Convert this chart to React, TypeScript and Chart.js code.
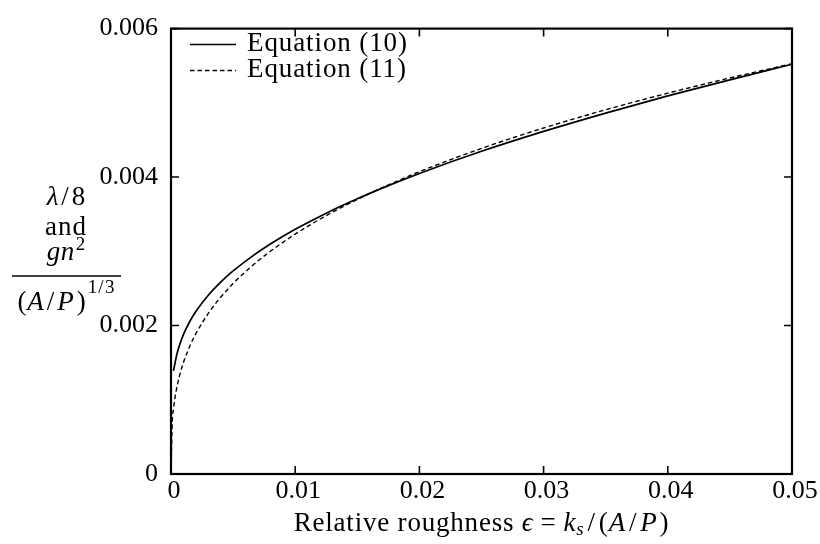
import React, { useEffect, useRef } from "react";
import { Chart, registerables } from "chart.js";

Chart.register(...registerables);

// Equation (10): lambda/8 (solid)
const eq10X = [0.0002, 0.0003, 0.0004, 0.0005, 0.0007, 0.001, 0.0015, 0.002, 0.003, 0.004, 0.005, 0.0065, 0.008, 0.01, 0.0125, 0.015, 0.0175, 0.02, 0.025, 0.03, 0.035, 0.04, 0.045, 0.05];
const eq10Y = [0.00139, 0.001475, 0.001559, 0.001629, 0.001743, 0.001878, 0.002051, 0.002189, 0.002408, 0.002585, 0.002735, 0.002929, 0.003098, 0.003296, 0.003514, 0.003708, 0.003885, 0.004049, 0.004347, 0.004615, 0.004862, 0.005093, 0.00531, 0.00552];

// Equation (11): g n^2 / (A/P)^(1/3) (dashed)
const eq11X = [0, 0.0001, 0.0002, 0.0004, 0.0007, 0.001, 0.0015, 0.002, 0.003, 0.004, 0.005, 0.0065, 0.008, 0.01, 0.0125, 0.015, 0.0175, 0.02, 0.025, 0.03, 0.035, 0.04, 0.045, 0.05];
const eq11Y = [0, 0.000696, 0.000877, 0.001105, 0.001332, 0.0015, 0.001717, 0.00189, 0.002163, 0.002381, 0.002565, 0.0028, 0.003, 0.003232, 0.003481, 0.003699, 0.003894, 0.004072, 0.004386, 0.004661, 0.004907, 0.00513, 0.005335, 0.005526];

const xTickValues = [0, 0.01, 0.02, 0.03, 0.04, 0.05];
const yTickValues = [0, 0.002, 0.004, 0.006];
const legendLabels = ["Equation (10)", "Equation (11)"];

const FAMILY = "'Liberation Serif', 'Times New Roman', serif";
const TICK = 26;
const BASE = 27;
const SUB = 19;

type Run = { t: string; italic?: boolean; size?: number; dy?: number; ls?: number; pre?: number; post?: number };

function setRunFont(ctx: CanvasRenderingContext2D, r: Run, defLs: number) {
  ctx.font = `${r.italic ? "italic " : ""}${r.size ?? BASE}px ${FAMILY}`;
  (ctx as any).letterSpacing = `${r.ls ?? defLs}px`;
}

function drawRuns(
  ctx: CanvasRenderingContext2D,
  runs: Run[],
  cx: number,
  y: number,
  align: "center" | "left" = "center",
  defLs = 0
) {
  let w = 0;
  const widths: number[] = [];
  runs.forEach((r) => {
    setRunFont(ctx, r, defLs);
    const rw = ctx.measureText(r.t).width;
    widths.push(rw);
    w += (r.pre ?? 0) + rw + (r.post ?? 0);
  });
  let x = align === "center" ? cx - w / 2 : cx;
  ctx.textAlign = "left";
  ctx.textBaseline = "alphabetic";
  runs.forEach((r, i) => {
    setRunFont(ctx, r, defLs);
    x += r.pre ?? 0;
    ctx.fillText(r.t, x, y + (r.dy ?? 0));
    x += widths[i] + (r.post ?? 0);
  });
  (ctx as any).letterSpacing = "0px";
}

const decorPlugin = {
  id: "decor",
  afterDraw(chart: any) {
    const ctx: CanvasRenderingContext2D = chart.ctx;
    const { left, right, top, bottom } = chart.chartArea;
    const xs = chart.scales.x;
    const ys = chart.scales.y;
    ctx.save();
    ctx.strokeStyle = "#000";
    ctx.fillStyle = "#000";
    // inward ticks
    ctx.lineWidth = 1.6;
    const tl = 8;
    ctx.beginPath();
    xTickValues.forEach((v) => {
      const px = xs.getPixelForValue(v);
      ctx.moveTo(px, bottom);
      ctx.lineTo(px, bottom - tl);
      ctx.moveTo(px, top);
      ctx.lineTo(px, top + tl);
    });
    yTickValues.forEach((v) => {
      const py = ys.getPixelForValue(v);
      ctx.moveTo(left, py);
      ctx.lineTo(left + tl, py);
      ctx.moveTo(right, py);
      ctx.lineTo(right - tl, py);
    });
    ctx.stroke();
    // frame
    ctx.lineWidth = 2.2;
    ctx.strokeRect(left, top, right - left, bottom - top);

    // legend
    ctx.lineWidth = 1.7;
    ctx.setLineDash([]);
    ctx.beginPath();
    ctx.moveTo(190, 44.5);
    ctx.lineTo(236, 44.5);
    ctx.stroke();
    ctx.lineWidth = 1.4;
    ctx.setLineDash([4.5, 3]);
    ctx.beginPath();
    ctx.moveTo(190, 70.5);
    ctx.lineTo(236, 70.5);
    ctx.stroke();
    ctx.setLineDash([]);
    drawRuns(ctx, [{ t: legendLabels[0] }], 247, 51, "left", 0.9);
    drawRuns(ctx, [{ t: legendLabels[1] }], 247, 77, "left", 0.9);

    // x-axis title
    drawRuns(
      ctx,
      [
        { t: "Relative roughness " },
        { t: "\u03f5", italic: true, post: 3 },
        { t: "=", pre: 4, post: 7 },
        { t: "k", italic: true },
        { t: "s", italic: true, size: SUB, dy: 4, post: 1 },
        { t: "/", pre: 2, post: 3 },
        { t: "(" },
        { t: "A", italic: true, post: 1 },
        { t: "/", pre: 2, post: 3 },
        { t: "P", italic: true, post: 2 },
        { t: ")" },
      ],
      (left + right) / 2,
      531,
      "center",
      0.8
    );

    // y-axis title
    const cx = 66;
    drawRuns(ctx, [{ t: "\u03bb", italic: true, post: 2 }, { t: "/", pre: 1, post: 3 }, { t: "8" }], cx, 205);
    drawRuns(ctx, [{ t: "and" }], cx, 235, "center", 1.0);
    drawRuns(ctx, [{ t: "gn", italic: true, ls: 0.6 }, { t: "2", size: SUB, dy: -10, pre: 1 }], cx, 260);
    ctx.lineWidth = 1.5;
    ctx.beginPath();
    ctx.moveTo(12, 276);
    ctx.lineTo(121, 276);
    ctx.stroke();
    drawRuns(
      ctx,
      [
        { t: "(", post: 1 },
        { t: "A", italic: true, post: 1 },
        { t: "/", pre: 2, post: 3 },
        { t: "P", italic: true, post: 3 },
        { t: ")", post: 2 },
        { t: "1", size: SUB, dy: -17, post: 0.5 },
        { t: "/", size: SUB, dy: -17, pre: 0.5, post: 1.5 },
        { t: "3", size: SUB, dy: -17 },
      ],
      cx,
      310
    );
    ctx.restore();
  },
};

export default function App() {
  const ref = useRef<HTMLCanvasElement | null>(null);
  useEffect(() => {
    if (!ref.current) return;
    const chart = new Chart(ref.current, {
      type: "line",
      data: {
        datasets: [
          {
            label: legendLabels[0],
            data: eq10X.map((x, i) => ({ x, y: eq10Y[i] })),
            borderColor: "#000",
            borderWidth: 1.7,
            pointRadius: 0,
            fill: false,
            cubicInterpolationMode: "monotone",
          },
          {
            label: legendLabels[1],
            data: eq11X.map((x, i) => ({ x, y: eq11Y[i] })),
            borderColor: "#000",
            borderWidth: 1.4,
            borderDash: [4.5, 3],
            pointRadius: 0,
            fill: false,
            cubicInterpolationMode: "monotone",
          },
        ],
      },
      options: {
        animation: false,
        responsive: true,
        maintainAspectRatio: false,
        layout: { padding: { left: 0, right: 28, top: 20, bottom: 0 }, autoPadding: false },
        plugins: { legend: { display: false }, tooltip: { enabled: false } },
        scales: {
          x: {
            type: "linear",
            min: 0,
            max: 0.05,
            afterFit: (s: any) => {
              s.height = 70;
            },
            afterBuildTicks: (s: any) => {
              s.ticks = xTickValues.map((v) => ({ value: v }));
            },
            grid: { display: false, drawTicks: false },
            border: { display: false },
            ticks: {
              padding: 2,
              labelOffset: 3,
              color: "#000",
              font: { family: FAMILY, size: TICK },
              maxRotation: 0,
              callback: (v: any) => (Number(v) === 0 ? "0" : Number(v).toFixed(2)),
            },
          },
          y: {
            type: "linear",
            min: 0,
            max: 0.006,
            afterFit: (s: any) => {
              s.width = 171;
            },
            afterBuildTicks: (s: any) => {
              s.ticks = yTickValues.map((v) => ({ value: v }));
            },
            grid: { display: false, drawTicks: false },
            border: { display: false },
            ticks: {
              padding: 13,
              color: "#000",
              font: { family: FAMILY, size: TICK },
              callback: (v: any) => (Number(v) === 0 ? "0" : Number(v).toFixed(3)),
            },
          },
        },
      },
      plugins: [decorPlugin],
    });
    return () => chart.destroy();
  }, []);
  return (
    <div style={{ position: "fixed", left: 0, top: 0, width: 820, height: 544, background: "#fff" }}>
      <canvas ref={ref} />
    </div>
  );
}
